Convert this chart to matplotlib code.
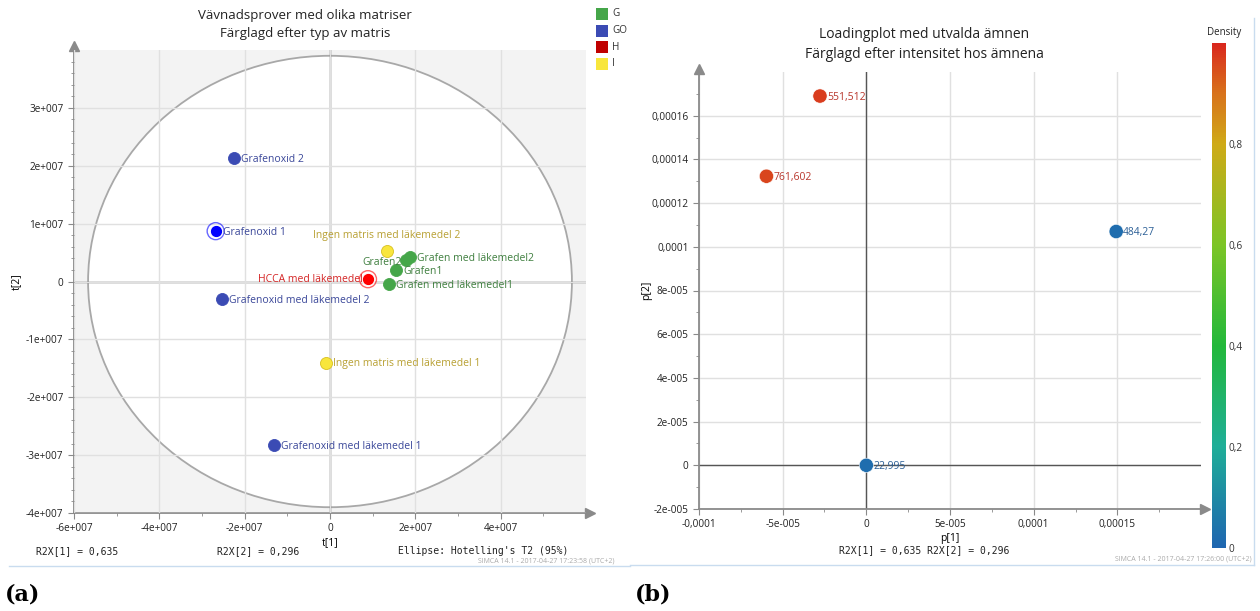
import matplotlib
matplotlib.use("Agg")
import matplotlib.pyplot as plt
from matplotlib.patches import Ellipse, Rectangle
from matplotlib.lines import Line2D
from matplotlib.colors import LinearSegmentedColormap, Normalize
from matplotlib.cm import ScalarMappable

plt.rcParams['font.family'] = ['Open Sans', 'DejaVu Sans']

# ---- data: score plot (a) ----
samples = ['Grafenoxid 2', 'Grafenoxid 1', 'Ingen matris med läkemedel 2', 'Grafen2',
           'Grafen med läkemedel2', 'Grafen1', 'HCCA med läkemedel', 'Grafen med läkemedel1',
           'Grafenoxid med läkemedel 2', 'Ingen matris med läkemedel 1', 'Grafenoxid med läkemedel 1']
groups = ['GO', 'GO', 'I', 'G', 'G', 'G', 'H', 'G', 'GO', 'I', 'GO']
t1 = [-2.25e7, -2.68e7, 1.33e7, 1.77e7, 1.88e7, 1.55e7, 0.89e7, 1.38e7, -2.53e7, -0.09e7, -1.31e7]
t2 = [2.13e7, 0.87e7, 0.53e7, 0.38e7, 0.43e7, 0.20e7, 0.04e7, -0.04e7, -0.31e7, -1.40e7, -2.83e7]
highlighted = ['Grafenoxid 1', 'HCCA med läkemedel']
legend_groups = ['G', 'GO', 'H', 'I']
ellipse_t1 = 5.67e7
ellipse_t2 = 3.90e7

a_xticks = [-6e7, -4e7, -2e7, 0, 2e7, 4e7]
a_xlabels = ['-6e+007', '-4e+007', '-2e+007', '0', '2e+007', '4e+007']
a_yticks = [-4e7, -3e7, -2e7, -1e7, 0, 1e7, 2e7, 3e7]
a_ylabels = ['-4e+007', '-3e+007', '-2e+007', '-1e+007', '0', '1e+007', '2e+007', '3e+007']

# ---- data: loading plot (b) ----
loading_ids = ['551,512', '761,602', '484,27', '22,995']
p1 = [-2.77e-5, -5.97e-5, 1.493e-4, 0.0]
p2 = [1.69e-4, 1.323e-4, 1.07e-4, 0.0]
density = [0.97, 0.96, 0.02, 0.02]

b_xticks = [-1e-4, -5e-5, 0, 5e-5, 1e-4, 1.5e-4]
b_xlabels = ['-0,0001', '-5e-005', '0', '5e-005', '0,0001', '0,00015']
b_yticks = [-2e-5, 0, 2e-5, 4e-5, 6e-5, 8e-5, 1e-4, 1.2e-4, 1.4e-4, 1.6e-4]
b_ylabels = ['-2e-005', '0', '2e-005', '4e-005', '6e-005', '8e-005', '0,0001',
             '0,00012', '0,00014', '0,00016']
cbar_ticks = [0, 0.2, 0.4, 0.6, 0.8]
cbar_labels = ['0', '0,2', '0,4', '0,6', '0,8']

# colours
point_col = {'G': '#45a649', 'GO': '#3b4bb4', 'H': '#c00000', 'I': '#f8e63c'}
hi_col = {'GO': '#0000ff', 'H': '#ff0000'}
text_col = {'G': '#3f7f3f', 'GO': '#3a4799', 'H': '#d42424', 'I': '#b8a032'}

W, H = 1260, 611
fig = plt.figure(figsize=(W / 100, H / 100), dpi=100)


def box(x0, y0, x1, y1):
    return [x0 / W, 1 - y1 / H, (x1 - x0) / W, (y1 - y0) / H]


def ftext(x, y, s, **kw):
    fig.text(x / W, 1 - y / H, s, **kw)


def style_axes(ax):
    for side in ['top', 'right']:
        ax.spines[side].set_visible(False)
    for side in ['left', 'bottom']:
        ax.spines[side].set_color('#8a8a8a')
        ax.spines[side].set_linewidth(1.3)
    ax.tick_params(which='both', colors='#8a8a8a', labelcolor='#222222', labelsize=7.2,
                   direction='out')
    ax.tick_params(which='major', length=4)
    ax.tick_params(which='minor', length=2.2)
    ax.plot(1.008, 0, '>', color='#8a8a8a', ms=7, transform=ax.transAxes, clip_on=False)
    ax.plot(0, 1.008, '^', color='#8a8a8a', ms=7, transform=ax.transAxes, clip_on=False)
    ax.axhline(0, color='#555555', lw=1, zorder=2)
    ax.axvline(0, color='#555555', lw=1, zorder=2)


# ================= (a) =================
ax = fig.add_axes(box(74, 50, 586, 513))
ax.set_facecolor('#f3f3f3')
ax.set_xlim(-6e7, 6e7)
ax.set_ylim(-4e7, 4e7)
ax.add_patch(Ellipse((0, 0), 2 * ellipse_t1, 2 * ellipse_t2, facecolor='white',
                     edgecolor='#a8a8a8', lw=1.3, zorder=0.5))
ax.set_xticks(a_xticks, a_xlabels)
ax.set_yticks(a_yticks, a_ylabels)
ax.set_xticks([v + 1e7 for v in a_xticks], minor=True)
ax.set_yticks([v + k * 2e6 for v in a_yticks for k in range(1, 5)], minor=True)
ax.grid(True, which='major', color='#e0e0e0', lw=1, zorder=1)
ax.set_axisbelow(False)
style_axes(ax)
ax.set_xlabel('t[1]', fontsize=7.5, labelpad=2)
ax.set_ylabel('t[2]', fontsize=7.5)
ax.yaxis.set_label_coords((22 - 74) / 512, 0.5)

label_place = {
    'Ingen matris med läkemedel 2': ((0, 7), 'center', 'bottom'),
    'Grafen2': ((-3, -2), 'right', 'center'),
    'HCCA med läkemedel': ((-4, 0), 'right', 'center'),
}
for name, g, x, y in zip(samples, groups, t1, t2):
    if name in highlighted:
        ax.scatter(x, y, s=150, facecolor='none', edgecolor=hi_col[g], lw=1, zorder=4, alpha=0.6)
        ax.scatter(x, y, s=80, color=hi_col[g], edgecolor='white', lw=0.8, zorder=5)
    else:
        ec = '#d8c020' if g == 'I' else point_col[g]
        ax.scatter(x, y, s=75, color=point_col[g], edgecolor=ec, lw=0.6, zorder=5)
    off, ha, va = label_place.get(name, ((5, -1), 'left', 'center'))
    ax.annotate(name, (x, y), xytext=off, textcoords='offset points', ha=ha, va=va,
                fontsize=7.5, color=text_col[g], zorder=6)

ftext(305, 16, 'Vävnadsprover med olika matriser', ha='center', va='center', fontsize=9.5, color='#222222')
ftext(305, 34, 'Färglagd efter typ av matris', ha='center', va='center', fontsize=9.5, color='#222222')

for i, g in enumerate(legend_groups):
    y0 = 8 + i * 16.5
    fig.add_artist(Rectangle((596 / W, 1 - (y0 + 12) / H), 12 / W, 12 / H,
                             transform=fig.transFigure, facecolor=point_col[g], edgecolor='none'))
    ftext(612, y0 + 6, g, ha='left', va='center', fontsize=7.2, color='#333333')

mono = dict(family='DejaVu Sans Mono', fontsize=7, color='#222222', va='center')
ftext(36, 551, 'R2X[1] = 0,635', ha='left', **mono)
ftext(217, 551, 'R2X[2] = 0,296', ha='left', **mono)
ftext(398, 551, "Ellipse: Hotelling's T2 (95%)", ha='left', **mono)
ftext(478, 561, 'SIMCA 14.1 - 2017-04-27 17:23:58 (UTC+2)', ha='left', va='center',
      fontsize=5, color='#aaaaaa')
fig.add_artist(Line2D([9 / W, 630 / W], [1 - 566 / H] * 2, color='#c9dcef', lw=1))
ftext(5, 595, '(a)', family='DejaVu Serif', fontweight='bold', fontsize=16, ha='left', va='center')

# ================= (b) =================
cmap = LinearSegmentedColormap.from_list('density', [
    (0.0, '#1f66b0'), (0.2, '#1fae98'), (0.4, '#22b83a'), (0.6, '#7cc526'),
    (0.8, '#cfaa17'), (0.9, '#d8731c'), (1.0, '#d9271d')])
norm = Normalize(0, 1.0)

bx = fig.add_axes(box(699, 72, 1201, 509))
bx.set_xlim(-1e-4, 2e-4)
bx.set_ylim(-2e-5, 1.8e-4)
bx.set_xticks(b_xticks, b_xlabels)
bx.set_yticks(b_yticks, b_ylabels)
bx.set_xticks([v + 2.5e-5 for v in b_xticks], minor=True)
bx.set_yticks([v + 1e-5 for v in b_yticks], minor=True)
bx.grid(True, which='major', color='#e0e0e0', lw=1, zorder=1)
style_axes(bx)
bx.set_xlabel('p[1]', fontsize=7.5, labelpad=2)
bx.set_ylabel('p[2]', fontsize=7.5)
bx.yaxis.set_label_coords((652 - 699) / 502, 0.5)

bx.scatter(p1, p2, c=density, cmap=cmap, norm=norm, s=105, edgecolor='white', lw=0.4, zorder=5)
for name, x, y, d in zip(loading_ids, p1, p2, density):
    col = '#b8362c' if d > 0.5 else '#2b5f96'
    bx.annotate(name, (x, y), xytext=(5, -1), textcoords='offset points', ha='left',
                va='center', fontsize=7.5, color=col, zorder=6)

ftext(924, 35, 'Loadingplot med utvalda ämnen', ha='center', va='center', fontsize=10, color='#222222')
ftext(924, 55, 'Färglagd efter intensitet hos ämnena', ha='center', va='center', fontsize=10, color='#222222')

cax = fig.add_axes(box(1212, 42.7, 1226, 548))
cb = fig.colorbar(ScalarMappable(norm=norm, cmap=cmap), cax=cax, ticks=cbar_ticks)
cb.ax.set_yticklabels(cbar_labels)
cb.outline.set_visible(False)
cb.ax.tick_params(length=0, pad=2, labelsize=7.2, labelcolor='#333333')
ftext(1224, 32, 'Density', ha='center', va='center', fontsize=7, color='#222222')

ftext(924, 550, 'R2X[1] = 0,635 R2X[2] = 0,296', ha='center', **mono)
ftext(1252, 559, 'SIMCA 14.1 - 2017-04-27 17:26:00 (UTC+2)', ha='right', va='center',
      fontsize=5, color='#aaaaaa')
fig.add_artist(Line2D([630 / W, 1254 / W], [1 - 565 / H] * 2, color='#c9dcef', lw=1))
fig.add_artist(Line2D([1254 / W] * 2, [1 - 565 / H, 1 - 18 / H], color='#c9dcef', lw=1))
ftext(635, 595, '(b)', family='DejaVu Serif', fontweight='bold', fontsize=16, ha='left', va='center')

fig.savefig('out.png', dpi=100, facecolor='white')
